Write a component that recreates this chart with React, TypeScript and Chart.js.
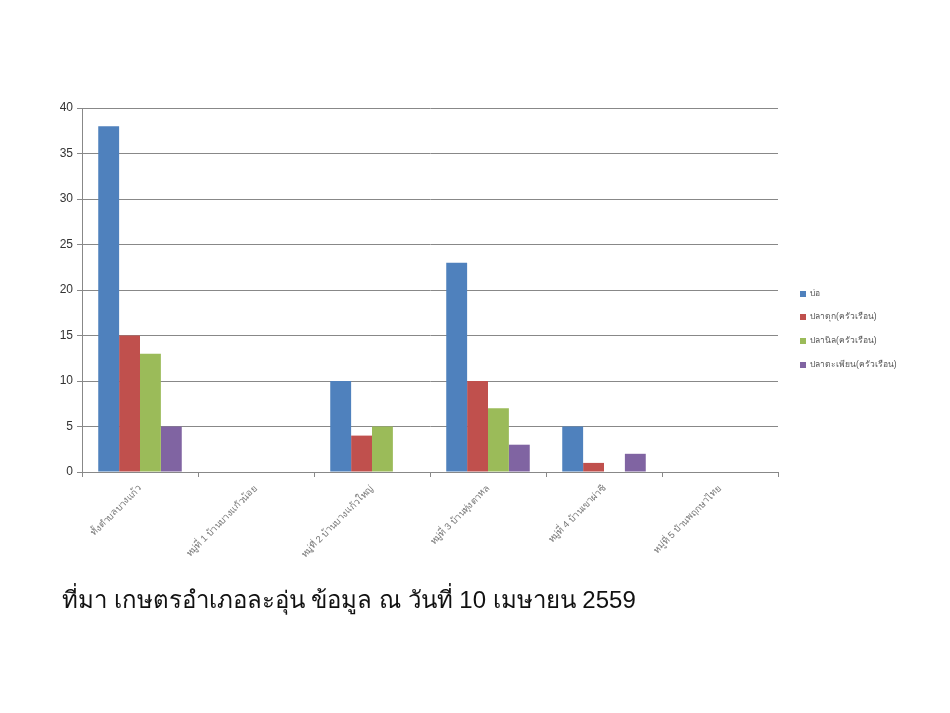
import React, { useEffect, useRef } from "react";
import { Chart, registerables } from "chart.js";

Chart.register(...registerables);

const categories = [
  "ทั้งตำบลบางแก้ว",
  "หมู่ที่ 1 บ้านบางแก้วน้อย",
  "หมู่ที่ 2 บ้านบางแก้วใหญ่",
  "หมู่ที่ 3 บ้านทุ่งตาหล",
  "หมู่ที่ 4 บ้านเขาผ่าซี",
  "หมู่ที่ 5 บ้านพฤกษาไทย",
];
const seriesNames = ["บ่อ", "ปลาดุก(ครัวเรือน)", "ปลานิล(ครัวเรือน)", "ปลาตะเพียน(ครัวเรือน)"];
const ponds = [38, 0, 10, 23, 5, 0];
const catfish = [15, 0, 4, 10, 1, 0];
const tilapia = [13, 0, 5, 7, 0, 0];
const barb = [5, 0, 0, 3, 2, 0];
const colors = ["#4F81BD", "#C0504D", "#9BBB59", "#8064A2"];
const caption = "ที่มา เกษตรอำเภอละอุ่น ข้อมูล ณ วันที่ 10 เมษายน 2559";

const FONT = "'Liberation Sans', 'Noto Sans', sans-serif";

const legendPlugin = {
  id: "customLegend",
  afterDraw(chart: any) {
    const ctx = chart.ctx;
    ctx.save();
    ctx.font = "8.5px " + FONT;
    ctx.textBaseline = "middle";
    ctx.textAlign = "left";
    const ys = [294, 317, 341, 365];
    chart.data.datasets.forEach((ds: any, i: number) => {
      const y = ys[i];
      ctx.fillStyle = ds.backgroundColor;
      ctx.fillRect(800, y - 3, 6, 6);
      ctx.fillStyle = "#555";
      ctx.fillText(ds.label, 810, y);
    });
    ctx.restore();
  },
};

export default function App() {
  const ref = useRef<HTMLCanvasElement>(null);
  useEffect(() => {
    const values = [ponds, catfish, tilapia, barb];
    const chart = new Chart(ref.current!, {
      type: "bar",
      data: {
        labels: categories,
        datasets: values.map((v, i) => ({
          label: seriesNames[i],
          data: v,
          backgroundColor: colors[i],
          borderWidth: 0,
          barPercentage: 1,
          categoryPercentage: 0.72,
        })),
      },
      options: {
        animation: false,
        responsive: false,
        layout: { padding: { left: 42, top: 108, right: 172, bottom: 141 } },
        plugins: { legend: { display: false }, tooltip: { enabled: false } },
        scales: {
          x: {
            afterFit: (s: any) => { s.height = 100; },
            grid: { offset: true, drawOnChartArea: false, drawTicks: true, tickLength: 5, color: "#888" },
            border: { color: "#888" },
            ticks: { minRotation: 45, maxRotation: 45, autoSkip: false, color: "#777", font: { size: 9.5, family: FONT }, padding: 6 },
          },
          y: {
            min: 0,
            max: 40,
            afterFit: (s: any) => { s.width = 40; },
            grid: { color: "#888", tickLength: 5 },
            border: { color: "#888" },
            ticks: { stepSize: 5, color: "#333", font: { size: 12, family: FONT }, padding: 4 },
          },
        },
      },
      plugins: [legendPlugin],
    });
    return () => chart.destroy();
  }, []);
  return (
    <div style={{ position: "fixed", left: 0, top: 0, width: 950, height: 713, background: "#fff" }}>
      <canvas ref={ref} width={950} height={713} style={{ position: "absolute", left: 0, top: 0 }} />
      <div
        style={{
          position: "absolute",
          left: 62,
          top: 580,
          fontFamily: FONT,
          fontSize: 24,
          color: "#111",
          whiteSpace: "nowrap",
        }}
      >
        {caption}
      </div>
    </div>
  );
}
